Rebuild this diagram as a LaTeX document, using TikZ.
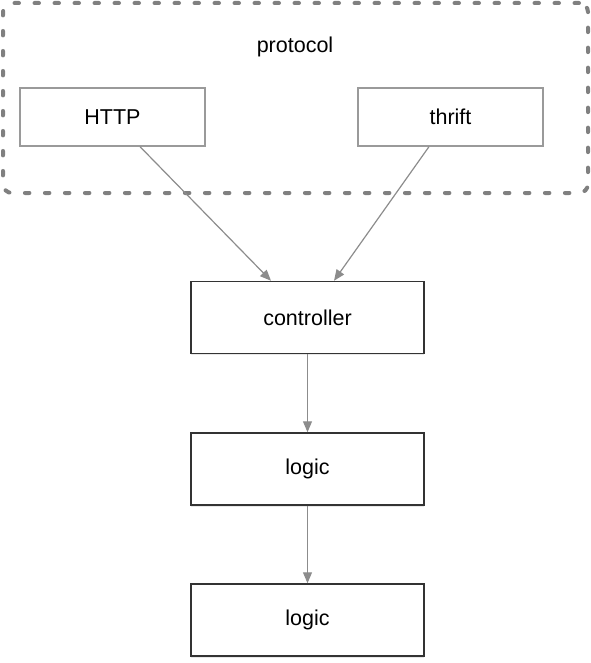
\documentclass[tikz,border=0pt]{standalone}
\usepackage{fontspec}
\setmainfont{Liberation Sans}
\usetikzlibrary{arrows.meta,shadows}
\definecolor{dashgray}{HTML}{808080}
\definecolor{boxgray}{HTML}{9A9A9A}
\definecolor{arrowgray}{HTML}{8C8C8C}
\definecolor{darkline}{HTML}{333333}
\begin{document}
\begin{tikzpicture}[x=1pt,y=-1pt,
  every node/.style={font=\fontsize{21.5}{25}\selectfont, inner sep=0pt},
  container/.style={draw=dashgray, line width=4pt, rounded corners=9pt, line cap=round,
    dash pattern=on 4.5pt off 15.5pt, minimum width=585pt, minimum height=190pt},
  protobox/.style={draw=boxgray, line width=1.3pt, fill=white, minimum width=185pt, minimum height=58pt},
  layerbox/.style={draw=darkline, line width=1.5pt, fill=white, minimum width=233pt, minimum height=72pt,
    drop shadow={opacity=0.18, shadow xshift=0pt, shadow yshift=-1.5pt}},
  link/.style={draw=arrowgray, line width=1.2pt, -{Triangle[length=11pt,width=9pt]}}
]
\useasboundingbox (0,0) rectangle (590,663);
\node[container] (grp) at (295.5,98) {};
\node (plabel) at (295,47) {protocol};
\node[protobox] (http) at (112.5,117) {HTTP};
\node[protobox] (thrift) at (450.5,117) {thrift};
\node[layerbox] (ctrl) at (307.5,317.5) {controller};
\node[layerbox] (logicA) at (307.5,469) {logic};
\node[layerbox] (logicB) at (307.5,620) {logic};
\draw[link] ([xshift=27.5pt]http.south) -- ([xshift=-36.5pt]ctrl.north);
\draw[link] ([xshift=-21.5pt]thrift.south) -- ([xshift=26.5pt]ctrl.north);
\draw[link] (ctrl.south) -- (logicA.north);
\draw[link] (logicA.south) -- (logicB.north);
\end{tikzpicture}
\end{document}
